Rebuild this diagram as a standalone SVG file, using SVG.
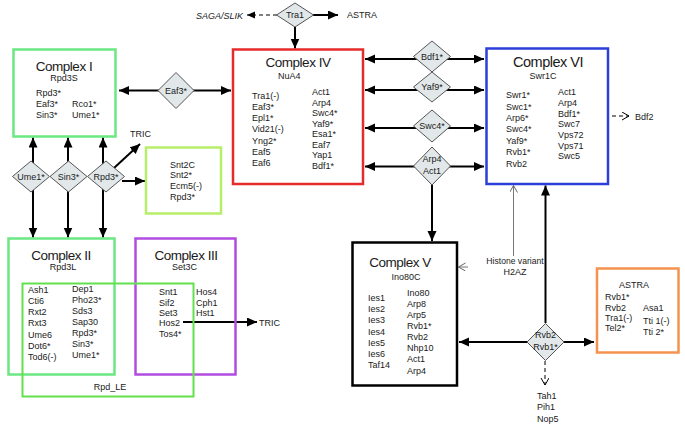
<svg xmlns="http://www.w3.org/2000/svg" width="685" height="430" viewBox="0 0 685 430">
<style>
text{font-family:"Liberation Sans",Arial,Helvetica,sans-serif;fill:#1a1a1a;font-size:9px}
.t{font-size:13.5px;letter-spacing:-0.5px;text-anchor:middle}
.s{text-anchor:middle;font-size:9px}
.c{text-anchor:middle}
.box{fill:#fff;stroke-width:2.5}
.dia{fill:#E2E8EA;stroke:#555;stroke-width:1}
.ln{stroke:#000;stroke-width:2;fill:none}
.thin{stroke:#777;stroke-width:1;fill:none}
.dash{stroke:#000;stroke-width:1;fill:none;stroke-dasharray:4 3}
</style>
<defs>
<marker id="ah" markerUnits="userSpaceOnUse" markerWidth="11" markerHeight="10" refX="10" refY="4.5" orient="auto-start-reverse"><path d="M0,0 L10,4.5 L0,9 z" fill="#000"/></marker>
<marker id="ahs" markerUnits="userSpaceOnUse" markerWidth="9" markerHeight="8" refX="8" refY="3.5" orient="auto-start-reverse"><path d="M0,0 L8,3.5 L0,7 z" fill="#000"/></marker>
<marker id="ch" markerUnits="userSpaceOnUse" markerWidth="9" markerHeight="9" refX="7" refY="4" orient="auto"><path d="M0,0 L7,4 L0,8" fill="none" stroke="#666" stroke-width="1"/></marker>
<marker id="chd" markerUnits="userSpaceOnUse" markerWidth="9" markerHeight="9" refX="7" refY="4" orient="auto"><path d="M0,0 L7,4 L0,8" fill="none" stroke="#000" stroke-width="1"/></marker>
</defs>
<rect width="685" height="430" fill="#fff"/>

<g id="connectors">
<line class="ln" x1="119" y1="90.5" x2="231" y2="90.5" marker-start="url(#ah)" marker-end="url(#ah)"/>
<line class="dash" x1="277" y1="15" x2="247" y2="15" marker-end="url(#ahs)"/>
<line class="ln" x1="313" y1="15" x2="338" y2="15" marker-end="url(#ah)"/>
<line class="ln" x1="295" y1="27" x2="295" y2="48.5" marker-end="url(#ah)"/>
<line class="ln" x1="365" y1="59" x2="484" y2="59" marker-start="url(#ah)" marker-end="url(#ah)"/>
<line class="ln" x1="365" y1="90" x2="484" y2="90" marker-start="url(#ah)" marker-end="url(#ah)"/>
<line class="ln" x1="365" y1="128" x2="484" y2="128" marker-start="url(#ah)" marker-end="url(#ah)"/>
<line class="ln" x1="365" y1="166.5" x2="484" y2="166.5" marker-start="url(#ah)" marker-end="url(#ah)"/>
<line class="ln" x1="432" y1="185" x2="432" y2="241" marker-end="url(#ah)"/>
<line class="ln" x1="459" y1="342" x2="594" y2="342" marker-start="url(#ah)" marker-end="url(#ah)"/>
<line class="ln" x1="545.5" y1="323" x2="545.5" y2="185.5" marker-end="url(#ah)"/>
<line class="dash" x1="545" y1="361" x2="545" y2="385" marker-end="url(#chd)"/>
<line class="thin" x1="468" y1="267" x2="458.5" y2="267" marker-end="url(#ch)"/>
<line class="thin" x1="513.5" y1="256" x2="513.5" y2="185.5" marker-end="url(#ch)"/>
<line class="dash" x1="584" y1="116" x2="629" y2="116" marker-end="url(#chd)"/>
<line class="ln" x1="33" y1="137.5" x2="33" y2="237.5" marker-start="url(#ah)" marker-end="url(#ah)"/>
<line class="ln" x1="68" y1="137.5" x2="68" y2="237.5" marker-start="url(#ah)" marker-end="url(#ah)"/>
<line class="ln" x1="103" y1="137.5" x2="103" y2="237.5" marker-start="url(#ah)" marker-end="url(#ah)"/>
<line class="ln" x1="114" y1="168" x2="140" y2="144" marker-end="url(#ah)"/>
<line class="ln" x1="122" y1="181" x2="145" y2="181" marker-end="url(#ah)"/>
<line class="ln" x1="183" y1="322" x2="257" y2="322" marker-end="url(#ah)"/>
</g>

<g id="complex1">
<rect class="box" x="13.5" y="49.5" width="102" height="87" stroke="#6BE884"/>
<text class="t" x="64" y="70.5">Complex I</text>
<text class="s" x="64" y="81">Rpd3S</text>
<text x="36" y="96">Rpd3*</text>
<text x="36" y="107">Eaf3*</text>
<text x="36" y="118">Sin3*</text>
<text x="72" y="107">Rco1*</text>
<text x="72" y="118">Ume1*</text>
</g>

<g id="snt2c">
<rect class="box" x="146" y="147.5" width="75" height="66" stroke="#B6EE6A" stroke-width="2"/>
<text x="170" y="167.5">Snt2C</text>
<text x="170" y="177.5">Snt2*</text>
<text x="170" y="188.5">Ecm5(-)</text>
<text x="170" y="200">Rpd3*</text>
</g>

<g id="tric-labels">
<text x="130" y="137">TRIC</text>
<text x="259" y="325.5">TRIC</text>
</g>

<g id="complex2">
<rect class="box" x="8.5" y="238.5" width="106" height="136" stroke="#6BE884"/>
<text class="t" x="61" y="259.5">Complex II</text>
<text class="s" x="63" y="270">Rpd3L</text>
<text x="28" y="293">Ash1</text>
<text x="28" y="304">Cti6</text>
<text x="28" y="315">Rxt2</text>
<text x="28" y="326">Rxt3</text>
<text x="28" y="338">Ume6</text>
<text x="28" y="349">Dot6*</text>
<text x="28" y="360">Tod6(-)</text>
<text x="72" y="292">Dep1</text>
<text x="72" y="303">Pho23*</text>
<text x="72" y="314">Sds3</text>
<text x="72" y="325">Sap30</text>
<text x="72" y="336">Rpd3*</text>
<text x="72" y="347">Sin3*</text>
<text x="72" y="358">Ume1*</text>
</g>

<g id="complex3">
<rect x="135.5" y="238.5" width="100" height="136" stroke="#B24CE0" stroke-width="2.5" fill="none"/>
<text class="t" x="186" y="259.5">Complex III</text>
<text class="s" x="184.5" y="270">Set3C</text>
<text x="159" y="295">Snt1</text>
<text x="159" y="305.5">Sif2</text>
<text x="159" y="316">Set3</text>
<text x="159" y="326">Hos2</text>
<text x="159" y="336.5">Tos4*</text>
<text x="196" y="295">Hos4</text>
<text x="196" y="305.5">Cph1</text>
<text x="196" y="316">Hst1</text>
</g>

<g id="rpd-le">
<rect x="22.5" y="283.5" width="171" height="113" fill="none" stroke="#62E04E" stroke-width="2"/>
<text class="c" x="110" y="390">Rpd_LE</text>
</g>

<g id="complex4">
<rect class="box" x="233" y="49.5" width="130" height="134.5" stroke="#E52B2B"/>
<text class="t" x="298" y="66.5">Complex IV</text>
<text x="278" y="79">NuA4</text>
<text x="252" y="99">Tra1(-)</text>
<text x="252" y="110">Eaf3*</text>
<text x="252" y="121">Epl1*</text>
<text x="252" y="132">Vid21(-)</text>
<text x="252" y="143.5">Yng2*</text>
<text x="252" y="155">Eaf5</text>
<text x="252" y="166">Eaf6</text>
<text x="312" y="95">Act1</text>
<text x="312" y="105.5">Arp4</text>
<text x="312" y="116">Swc4*</text>
<text x="312" y="126.5">Yaf9*</text>
<text x="312" y="137">Esa1*</text>
<text x="312" y="147.5">Eaf7</text>
<text x="312" y="158">Yap1</text>
<text x="312" y="168.5">Bdf1*</text>
</g>

<g id="complex6">
<rect class="box" x="486.5" y="48.5" width="121.5" height="135.5" stroke="#2C3FD9"/>
<text class="t" x="548" y="66.5" style="font-size:14.5px">Complex VI</text>
<text class="s" x="543" y="79">Swr1C</text>
<text x="506" y="98">Swr1*</text>
<text x="506" y="109.5">Swc1*</text>
<text x="506" y="121">Arp6*</text>
<text x="506" y="132">Swc4*</text>
<text x="506" y="143.5">Yaf9*</text>
<text x="506" y="155">Rvb1*</text>
<text x="506" y="166.5">Rvb2</text>
<text x="558" y="95">Act1</text>
<text x="558" y="105.5">Arp4</text>
<text x="558" y="116.5">Bdf1*</text>
<text x="558" y="127">Swc7</text>
<text x="558" y="138">Vps72</text>
<text x="558" y="148.5">Vps71</text>
<text x="558" y="159">Swc5</text>
<text x="635" y="120">Bdf2</text>
</g>

<g id="complex5">
<rect class="box" x="352.5" y="242.5" width="104.5" height="143" stroke="#000" stroke-width="3"/>
<text class="t" x="400" y="266.5">Complex V</text>
<text class="s" x="406" y="280">Ino80C</text>
<text x="368" y="301">Ies1</text>
<text x="368" y="312">Ies2</text>
<text x="368" y="323">Ies3</text>
<text x="368" y="334.5">Ies4</text>
<text x="368" y="345.5">Ies5</text>
<text x="368" y="357">Ies6</text>
<text x="368" y="368">Taf14</text>
<text x="407" y="295.5">Ino80</text>
<text x="407" y="306.5">Arp8</text>
<text x="407" y="317.5">Arp5</text>
<text x="407" y="329">Rvb1*</text>
<text x="407" y="340">Rvb2</text>
<text x="407" y="351">Nhp10</text>
<text x="407" y="362">Act1</text>
<text x="407" y="373.5">Arp4</text>
</g>

<g id="h2az">
<text class="c" x="515" y="263.5" style="font-size:8.6px">Histone variant</text>
<text class="c" x="515" y="274.5">H2AZ</text>
</g>

<g id="astra">
<rect class="box" x="597" y="268.5" width="81.5" height="84" stroke="#F5934E"/>
<text class="c" x="634" y="288">ASTRA</text>
<text x="605" y="300">Rvb1*</text>
<text x="605" y="310.5">Rvb2</text>
<text x="605" y="321">Tra1(-)</text>
<text x="605" y="331">Tel2*</text>
<text x="643" y="310.5">Asa1</text>
<text x="643" y="323.5">Tti 1(-)</text>
<text x="643" y="335">Tti 2*</text>
</g>

<g id="top-labels">
<text x="243" y="19" text-anchor="end" font-style="italic">SAGA/SLIK</text>
<text x="347" y="18">ASTRA</text>
</g>

<g id="tah1">
<text x="537" y="398.5">Tah1</text>
<text x="537" y="410">Pih1</text>
<text x="537" y="421.5">Nop5</text>
</g>

<g id="d-eaf3"><polygon class="dia" points="158,90.5 176,72.5 194,90.5 176,108.5"/><text class="c" x="176" y="93.5">Eaf3*</text></g>
<g id="d-tra1"><polygon class="dia" points="276.5,15 295,3 313.5,15 295,27"/><text class="c" x="295" y="18">Tra1</text></g>
<g id="d-bdf1"><polygon class="dia" points="413.5,56.5 432,41 450.5,56.5 432,72"/><text class="c" x="432" y="59.5">Bdf1*</text></g>
<g id="d-yaf9"><polygon class="dia" points="413.5,87 432,72 450.5,87 432,102"/><text class="c" x="432" y="90">Yaf9*</text></g>
<g id="d-swc4"><polygon class="dia" points="413.5,126 432,110 450.5,126 432,142"/><text class="c" x="432" y="129">Swc4*</text></g>
<g id="d-arp4act1"><polygon class="dia" points="413.5,166 432,147 450.5,166 432,185"/><text class="c" x="432" y="162">Arp4</text><text class="c" x="432" y="174">Act1</text></g>
<g id="d-rvb"><polygon class="dia" points="527,342 545.5,323.5 564,342 545.5,360.5"/><text class="c" x="545.5" y="338">Rvb2</text><text class="c" x="545.5" y="350">Rvb1*</text></g>
<g id="d-ume1"><polygon class="dia" points="12.5,176.5 31,161 49.5,176.5 31,192"/><text class="c" x="31" y="179.5">Ume1*</text></g>
<g id="d-sin3"><polygon class="dia" points="50,176.5 68.5,161 87,176.5 68.5,192"/><text class="c" x="68.5" y="179.5">Sin3*</text></g>
<g id="d-rpd3"><polygon class="dia" points="87.5,176.5 106,161 124.5,176.5 106,192"/><text class="c" x="106" y="179.5">Rpd3*</text></g>
</svg>
